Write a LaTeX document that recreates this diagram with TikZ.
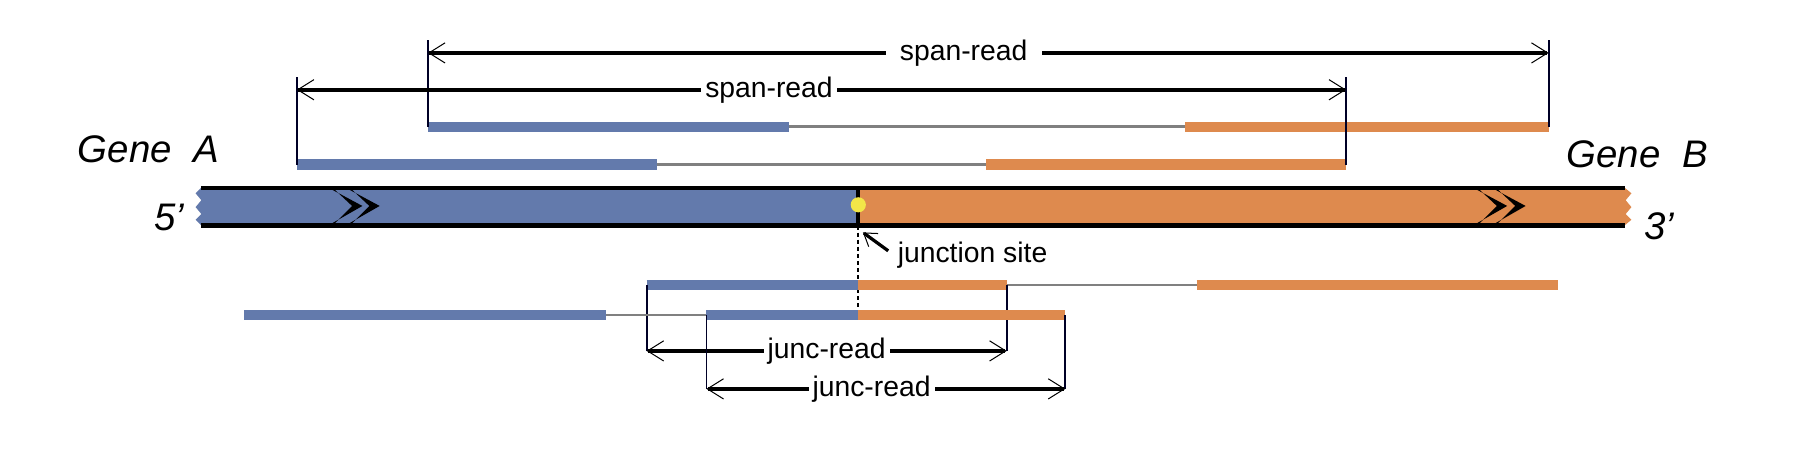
\documentclass[tikz,border=0pt]{standalone}
\usepackage{fontspec}
\setmainfont{Liberation Sans}
\usetikzlibrary{arrows.meta}

\definecolor{geneblue}{RGB}{99,122,172}
\definecolor{geneorange}{RGB}{222,138,78}
\definecolor{juncyellow}{RGB}{242,230,72}

\tikzset{barb/.tip={Straight Barb[length=8pt,width=10pt,line width=0.5pt]}}

\begin{document}
\begin{tikzpicture}[
    x=0.2mm, y=-0.2mm,                      % 1 unit = 1 px of the layout, y runs down
    readA/.style={geneblue, line width=5pt},
    readB/.style={geneorange, line width=5pt},
    gap/.style={gray, line width=1.1pt},
    rim/.style={black, line width=2pt},
    tickln/.style={black!85!blue, line width=0.9pt},
    span/.style={line width=2pt, barb-barb},
    lbl/.style={font=\fontsize{14}{16}\selectfont, fill=white, inner ysep=1pt, inner xsep=2pt},
    genelbl/.style={font=\fontsize{19}{22}\selectfont\itshape},
    chev/.style={fill=black},
  ]

  \useasboundingbox (0,0) rectangle (1568,403);

  % ---------- fusion transcript (gene A | gene B) ----------
  \fill[geneblue] (746,163) -- (175,163) -- (170,168) -- (175,174) -- (170,180)
    -- (175,186) -- (170,191) -- (175,196) -- (746,196) -- cycle;
  \fill[geneorange] (746,163) -- (1412,163) -- (1418,168) -- (1413,174) -- (1418,180)
    -- (1413,186) -- (1418,191) -- (1412,196) -- (746,196) -- cycle;
  \draw[rim] (175,163) -- (1412,163);
  \draw[rim] (175,196) -- (1412,196);
  \draw[rim] (746,163) -- (746,196);

  % direction chevrons (thin at the rims, thick at the tip)
  \foreach \x in {287,302,1282,1298}
  \fill[chev] (\x,164) -- (\x+28,179) -- (\x,195) -- (\x+3,195) -- (\x+19,179) -- (\x+3,164) -- cycle;

  \node[circle, fill=juncyellow, inner sep=0pt, minimum size=7.5pt] (jdot) at (746,178) {};

  % ---------- gene / end labels ----------
  \node[genelbl] (geneA) at (129,130) {Gene\ \ A};
  \node[genelbl] (geneB) at (1423,134) {Gene\ \ B};
  \node[genelbl] (end5) at (147,189) {5’};
  \node[genelbl] (end3) at (1442,197) {3’};

  % ---------- junction site ----------
  \coordinate (jbot) at (746,196);
  \coordinate (jlow) at (746,274);
  \coordinate (jtip) at (750,202);
  \coordinate (jtail) at (772,218);
  \draw[dashed, dash pattern=on 2pt off 1.5pt, line width=1.1pt] (jbot) -- (jlow);
  \draw[line width=1.6pt, -{Straight Barb[length=6pt,width=8pt,line width=0.5pt]}] (jtail) -- (jtip);
  \node[font=\fontsize{14}{16}\selectfont, anchor=west, inner sep=0pt] (jsite) at (780,222) {junction site};

  % ---------- span-read 1 (outer) ----------
  \coordinate (s1a) at (372,110);
  \coordinate (s1b) at (686,110);
  \coordinate (s1c) at (1030,110);
  \coordinate (s1d) at (1346,110);
  \coordinate (s1l) at (372,35);
  \coordinate (s1r) at (1346,35);
  \coordinate (s1la) at (372,46);
  \coordinate (s1ra) at (1346,46);
  \draw[gap] (s1b) -- (s1c);
  \draw[readA] (s1a) -- (s1b);
  \draw[readB] (s1c) -- (s1d);
  \draw[tickln] (s1a) -- (s1l);
  \draw[tickln] (s1d) -- (s1r);
  \draw[span] (s1la) -- (s1ra) node[lbl, pos=0.478, inner xsep=7pt] (span1) {span-read};

  % ---------- span-read 2 (inner) ----------
  \coordinate (s2a) at (258,143);
  \coordinate (s2b) at (571,143);
  \coordinate (s2c) at (857,143);
  \coordinate (s2d) at (1170,143);
  \coordinate (s2l) at (258,67);
  \coordinate (s2r) at (1170,67);
  \coordinate (s2la) at (258,78);
  \coordinate (s2ra) at (1170,78);
  \draw[gap] (s2b) -- (s2c);
  \draw[readA] (s2a) -- (s2b);
  \draw[readB] (s2c) -- (s2d);
  \draw[tickln] (s2a) -- (s2l);
  \draw[tickln] (s2d) -- (s2r);
  \draw[span] (s2la) -- (s2ra) node[lbl, pos=0.45] (span2) {span-read};

  % ---------- junc-read 1 ----------
  \coordinate (j1a) at (562,248);
  \coordinate (j1b) at (746,248);
  \coordinate (j1c) at (875,248);
  \coordinate (j1d) at (1040,248);
  \coordinate (j1e) at (1354,248);
  \coordinate (j1la) at (562,305);
  \coordinate (j1ra) at (875,305);
  \draw[gap] (j1c) -- (j1d);
  \draw[readA] (j1a) -- (j1b);
  \draw[readB] (j1b) -- (j1c);
  \draw[readB] (j1d) -- (j1e);
  \draw[tickln] (j1a) -- (j1la);
  \draw[tickln] (j1c) -- (j1ra);
  \draw[span] (j1la) -- (j1ra) node[lbl, pos=0.5] (junc1) {junc-read};

  % ---------- junc-read 2 ----------
  \coordinate (j2a) at (212,274);
  \coordinate (j2b) at (527,274);
  \coordinate (j2c) at (614,274);
  \coordinate (j2d) at (746,274);
  \coordinate (j2e) at (926,274);
  \coordinate (j2la) at (614,338);
  \coordinate (j2ra) at (926,338);
  \draw[gap] (j2b) -- (j2c);
  \draw[readA] (j2a) -- (j2b);
  \draw[readA] (j2c) -- (j2d);
  \draw[readB] (j2d) -- (j2e);
  \draw[tickln] (j2c) -- (j2la);
  \draw[tickln] (j2e) -- (j2ra);
  \draw[span] (j2la) -- (j2ra) node[lbl, pos=0.46] (junc2) {junc-read};

\end{tikzpicture}
\end{document}
